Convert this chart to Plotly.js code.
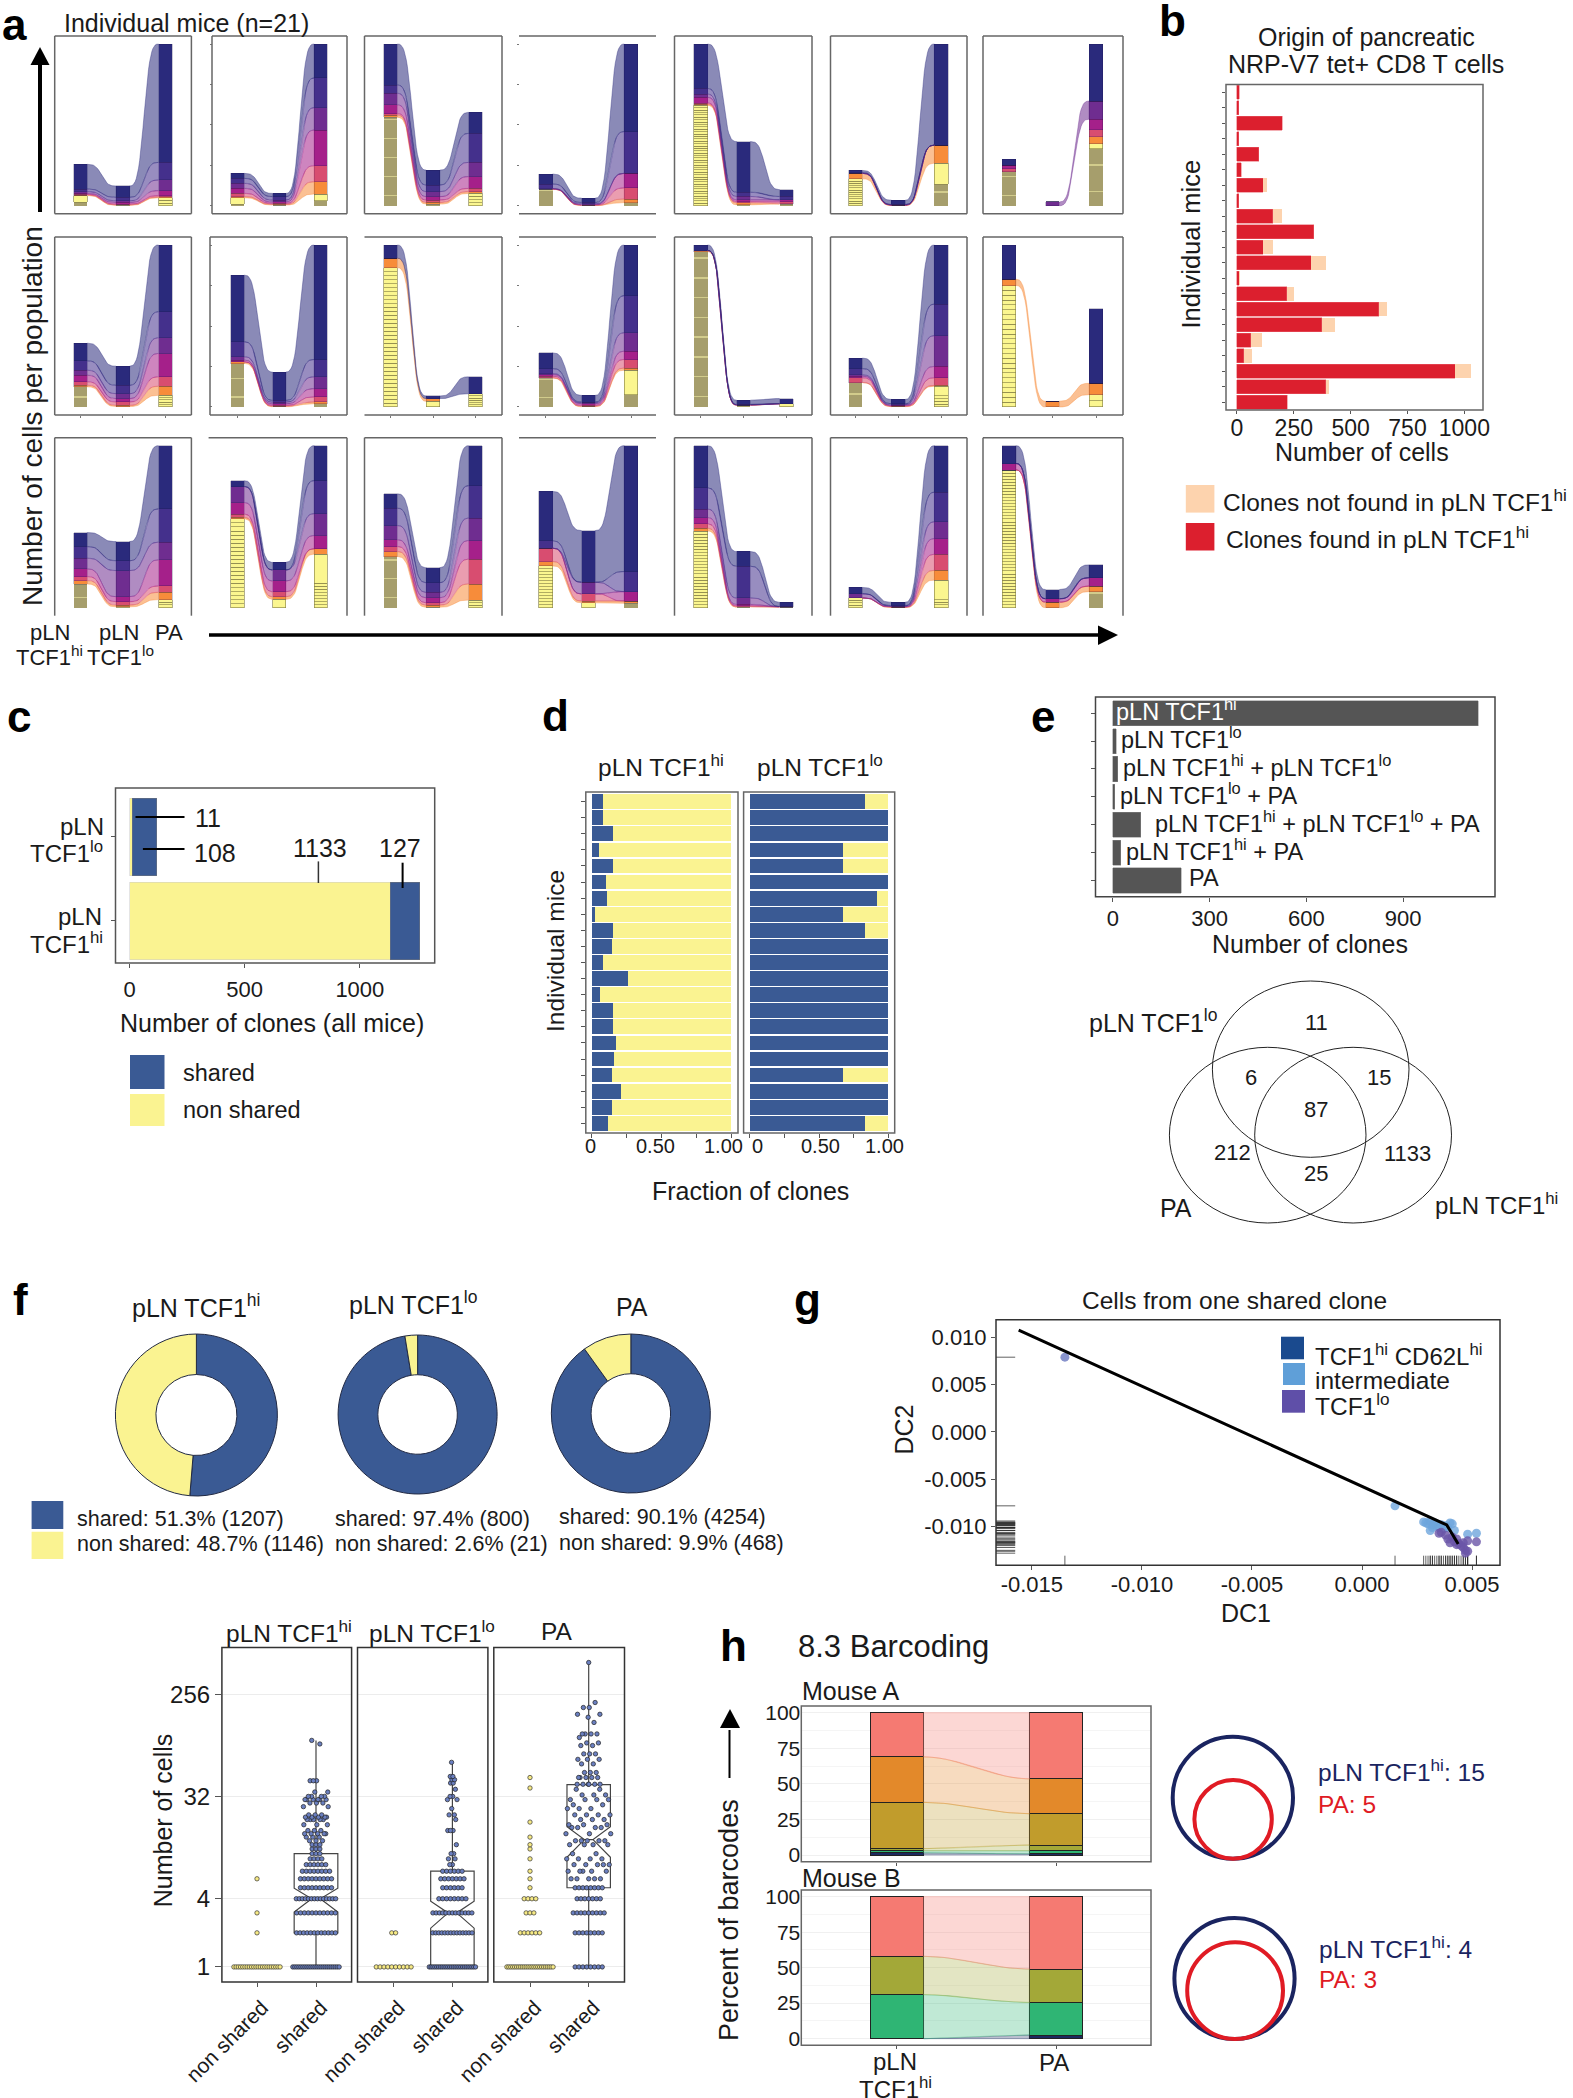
<!DOCTYPE html>
<html><head><meta charset="utf-8">
<script src="https://cdn.plot.ly/plotly-3.0.1.min.js"></script>
<style>html,body{margin:0;padding:0;background:#fff}</style></head>
<body><div id="chart" style="width:1573px;height:2098px"></div>
<script>
// ---------- DATA ----------
// panel a: cumulative tops at each population [yellow, orange, rose, magenta, purple, indigo, navy]
const miceCol1=[[6.2,6.6,7,7.6,8.7,10.3,25.6],[4.9,5.6,7.6,10.7,13.8,16.9,20],[54.6,56,57,62.3,69.5,74.6,100],[10.1,10.2,10.3,10.4,10.6,13.4,19.6],[62,62.8,63.5,67,69,72.5,100],[16.6,20,20,20,20,20.5,21.8],[21,21,23,25,25,25,28.8],
[12.4,13.4,15.5,19.6,22.7,28.5,39.4],[26.8,27.8,27.8,28.9,31,40.2,81.4],[86,91.8,91.8,91.8,91.8,91.8,100],[17.7,18,19,20,20.6,23.7,33.4],[95.8,96.6,96.6,96.6,96.6,96.6,100],[15,15.1,18,19,19.8,23.7,30.2],[75,78.9,78.9,78.9,78.9,78.9,100],
[14.6,16.7,19.2,23.9,30.5,37.7,46.4],[54.8,55.7,57.7,64.9,74.8,74.8,78.4],[31.5,34.6,37.7,41.9,50.7,61.4,70.3],[25.8,28.5,36.7,36.7,36.7,41.2,71.8],[47.3,49,51.7,55.6,60.8,73.9,100],[6,6,6,6,8.6,8.6,12.5],[85,85,85,89,89,89,100]];
const miceCol2=[[.2,.5,1,2,3,5.2,12.2],[.4,.8,1.4,2.3,3.5,5.6,7.6],[1,2,3.5,5.6,8.7,12.8,22],[.1,.2,.4,.7,1.2,2,4.7],[.5,1.8,2.5,3.6,5.7,8.3,39.7],[.1,.2,.3,.4,.6,.8,3.4],[0,0,0,0,2.3,2.3,2.3],
[.3,1,3.1,5.2,8.2,13.4,25.2],[.2,.5,1,2,3,4.1,21.6],[3.5,5.2,5.2,5.2,5.2,5.2,6.8],[.2,.5,1,2,2.5,3,7.2],[1,1.2,1.2,1.2,1.3,1.6,4.2],[.2,.4,.7,1.1,1.5,2,4.7],[0,3.6,3.6,3.6,3.6,3.6,3.6],
[.5,1.6,3.7,6.8,22.9,29,40.8],[5.2,6.8,9.9,16.5,23.3,23.3,28],[.3,1.6,3.1,6.2,9.5,15.5,24.7],[3,4.1,8.5,8.5,15.7,15.7,47.6],[.3,.6,1.2,2,6,25.6,34.7],[.1,.2,.4,.7,1,1.3,3.4],[0,3.4,3.4,5.5,5.5,5.5,11.2]];
const miceCol3=[[4.9,5.4,6.2,9.3,15.9,26.8,100],[7.2,14.8,24.7,46.8,60.6,79,100],[7.6,8.7,10.7,18,26.8,44.7,57.7],[1.9,4.1,11,20,20,45.8,100],[1,1.3,2.3,3.6,3.6,5.7,10],[26.2,37.4,37.4,37.4,37.4,37.4,100],[38.2,42.6,47,53.5,64.7,64.7,100],
[7.2,12.8,18.6,33,42.7,58.8,100],[2,3.1,6.2,11.3,18.6,29.3,100],[8.2,8.2,8.2,8.2,8.2,8.2,18.6],[22.7,24,29.3,34.4,45.8,68.7,100],[2,2,2,2,2,2,5.2],[12.8,13.3,18,25,44,63.5,100],[7.6,14.6,14.6,14.6,14.6,14.6,60.7],
[5,9.5,13.4,29.5,40.4,61,100],[33,36.3,36.3,44.5,58,78.4,100],[4.7,14.6,29.9,41.4,55.3,75.3,100],[2.7,4.1,4.1,9.9,9.9,22.3,100],[.3,.4,.5,.6,.7,.8,3.4],[17,23,32.9,42.6,53,71.3,100],[9.9,13.3,13.3,18.5,18.5,18.5,26.4]];
// number of small non-shared clones and size of one large clone, per population
const yellowClones=[[[3,4],[1,0],[3,0]],[[2,4],[1,0],[4,4]],[[65,0],[1,0],[4,0]],[[8,0],[1,0],[3,0]],[[42,0],[1,0],[2,0]],[[12,0],[1,0],[12,13]],[[25,0],[1,0],[30,3]],
[[15,0],[1,0],[5,0]],[[33,0],[1,0],[2,0]],[[35,0],[1,0],[6,0]],[[22,0],[1,0],[6,15]],[[110,0],[1,0],[1,0]],[[14,0],[1,0],[4,6]],[[25,0],[1,0],[2,0]],
[[18,0],[1,0],[3,0]],[[22,0],[1,0],[8,18]],[[38,0],[1,0],[3,0]],[[14,0],[1,0],[2,0]],[[25,0],[1,0],[1,0]],[[4,0],[1,0],[3,12]],[[45,0],[1,0],[8,0]]];
const flowOnly={6:[[],[4]],9:[[1,6],[6]],13:[[1],[1]]};
const bandColors=['#fbf68f','#f78c3a','#d84d70','#a5208a','#6f2d90','#44308c','#2a2a7c'];
// panel b
const bFound=[10,8,200,8,95,18,115,8,157,338,115,327,10,220,623,374,60,29,960,390,222];
const bTotal=[10,8,200,8,95,18,133,8,200,338,157,390,14,249,660,432,110,65,1029,406,222];
// panel c
const cRows=['lo','hi'];
const cNonShared=[11,1133];
const cShared=[108,127];
// panel d
const dHi=[.08,.08,.15,.05,.15,.10,.11,.02,.155,.145,.08,.26,.055,.15,.155,.175,.16,.145,.21,.145,.115];
const dLo=[.83,1,1,.67,.67,1,.92,.67,.83,1,1,1,1,1,1,1,1,.67,1,1,.83];
// panel e
const eLabels=['pLN TCF1<sup>hi</sup>','pLN TCF1<sup>lo</sup>','pLN TCF1<sup>hi</sup> + pLN TCF1<sup>lo</sup>','pLN TCF1<sup>lo</sup> + PA','pLN TCF1<sup>hi</sup> + pLN TCF1<sup>lo</sup> + PA','pLN TCF1<sup>hi</sup> + PA','PA'];
const eValues=[1133,11,15,6,87,25,212];
// panel f
const fShared=[1207,800,4254];
const fNonShared=[1146,21,468];
// panel g
const gIntermediateX=[.0015,.0028,.0029,.003,.0031,.0032,.0033,.0034,.0031,.0035,.0036,.0037,.0038,.0039,.004,.0041,.0032,.0048,.0052,.0042];
const gIntermediateY=[-.0078,-.0095,-.0096,-.0097,-.0094,-.0098,-.0096,-.0099,-.0104,-.0101,-.0098,-.0102,-.0099,-.0101,-.0096,-.0097,-.0101,-.0108,-.0107,-.0104];
const gLoX=[.0035,.0036,.0038,.0039,.0041,.0042,.0043,.0044,.0045,.0046,.0047,.0047,.0048,.0048,.0052,.004,.0043,.0046];
const gLoY=[-.0107,-.0106,-.0109,-.0113,-.0111,-.0116,-.0113,-.0118,-.012,-.0122,-.0125,-.0128,-.0126,-.0115,-.0116,-.0117,-.0119,-.0117];
const gHiX=[-.0135], gHiY=[.0079];
const gCurveX=[-.0156,.00385,.00437], gCurveY=[.01077,-.00982,-.01183];
// box panels: [number of cells, how many clones]
const bxHiNon=[[1,22],[2,1],[3,1],[6,1]];
const bxHiShared=[[1,24],[2,12],[3,11],[4,14],[5,9],[6,9],[7,8],[8,6],[9,4],[10,3],[11,3],[12,3],[13,3],[14,3],[15,5],[16,3],[18,3],[20,5],[21,5],[22,3],[26,2],[28,3],[30,6],[32,4],[35,2],[44,3],[93,1],[100,1]];
const bxLoNon=[[1,10],[2,2]];
const bxLoShared=[[1,26],[2,14],[3,13],[4,8],[5,6],[6,7],[7,6],[8,2],[9,2],[10,2],[12,1],[16,3],[20,1],[22,2],[25,1],[30,2],[32,2],[37,1],[42,2],[45,2],[48,2],[64,1]];
const bxPaNon=[[1,25],[2,6],[3,3],[4,4],[5,1],[6,1],[7,1],[9,1],[11,1],[12,1],[14,1],[19,1],[38,1],[47,1]];
const bxPaShared=[[1,8],[2,8],[3,9],[4,7],[5,8],[6,5],[7,5],[8,5],[9,4],[10,2],[12,4],[13,5],[15,3],[17,4],[18,3],[20,3],[22,4],[25,3],[27,2],[30,4],[33,3],[37,2],[41,6],[47,5],[52,3],[62,2],[68,3],[76,3],[90,2],[95,2],[106,1],[114,4],[144,1],[160,1],[170,2],[195,2],[216,1],[487,1]];
// q1, median, q3, lower whisker, upper whisker, notch half span
const boxStats=[[2,4,10,1,100,.95],[1,3,7,1,64,.8],[5,13.3,40.7,1,487,4]];
// panel h: cumulative tops [dark, green, olive, ochre, orange, salmon]
const hColors=['#1d2a60','#2fb574','#a3a838','#c19c2c','#e3892a','#f57a72'];
const mouseApLN=[1.5,3,4.5,37,69,100];
const mouseAPA=[.8,3,7,29,53.5,100];
const mouseBpLN=[0,31,58,58,58,100];
const mouseBPA=[2.5,25.5,49,49,49,100];

// ---------- HELPERS ----------
const W=1573,H=2098,FONT='Liberation Sans, Arial, sans-serif',INK='#1a1a1a';
const px=x=>x/W, py=y=>1-y/H;
const layout={width:W,height:H,margin:{l:0,r:0,t:0,b:0},paper_bgcolor:'#fff',plot_bgcolor:'rgba(0,0,0,0)',showlegend:false,barmode:'stack',font:{family:FONT,color:INK},annotations:[],shapes:[]};
const traces=[];let axN=0;
function frame(b,color,width){layout.shapes.push({type:'rect',xref:'paper',yref:'paper',x0:px(b[0]),y0:py(b[1]),x1:px(b[2]),y1:py(b[3]),line:{color,width},fillcolor:'rgba(0,0,0,0)'});}
function axes(box,xr,yr,xo={},yo={}){
  axN++;const s=axN===1?'':axN;const xid='x'+s,yid='y'+s;
  const base={showgrid:false,zeroline:false,ticks:'',showticklabels:false,fixedrange:true,ticklen:4,tickcolor:'#555',tickfont:{size:22,family:FONT,color:INK}};
  layout['xaxis'+s]=Object.assign({},base,{domain:[px(box[0]),px(box[2])],range:xr,anchor:yid},xo);
  layout['yaxis'+s]=Object.assign({},base,{domain:[py(box[3]),py(box[1])],range:yr,anchor:xid},yo);
  return {xaxis:xid,yaxis:yid};
}
function T(text,x,y,size,o={}){layout.annotations.push(Object.assign({text,x:px(x),y:py(y),xref:'paper',yref:'paper',showarrow:false,xanchor:'center',yanchor:'middle',font:{size,family:FONT,color:o.color||INK}},o.opt||{}));}
const TL=(text,x,y,size,o={})=>T(text,x,y,size,Object.assign({},o,{opt:Object.assign({xanchor:'left'},o.opt||{})}));
const TR=(text,x,y,size)=>T(text,x,y,size,{opt:{textangle:-90}});
function line(x0,y0,x1,y1,color,width){layout.shapes.push({type:'line',xref:'paper',yref:'paper',x0:px(x0),y0:py(y0),x1:px(x1),y1:py(y1),line:{color,width}});}
function rect(x0,y0,x1,y1,color){layout.shapes.push({type:'rect',xref:'paper',yref:'paper',x0:px(x0),y0:py(y0),x1:px(x1),y1:py(y1),fillcolor:color,line:{width:0}});}
function ring(x0,y0,x1,y1,color,width){layout.shapes.push({type:'circle',xref:'paper',yref:'paper',x0:px(x0),y0:py(y0),x1:px(x1),y1:py(y1),line:{color,width}});}
function tri(a,b,c){layout.shapes.push({type:'path',xref:'paper',yref:'paper',path:`M${px(a[0])},${py(a[1])}L${px(b[0])},${py(b[1])}L${px(c[0])},${py(c[1])}Z`,fillcolor:'#000',line:{width:0}});}
function rgba(hex,a){const n=parseInt(hex.slice(1),16);return `rgba(${n>>16},${(n>>8)&255},${n&255},${a})`;}
const knot=(u,p)=>{const a=Math.pow(u,p),b=Math.pow(1-u,p);return a/(a+b);};
function ribbon(xa,xb,lo0,hi0,lo1,hi1,X,Y,p){
  const N=26,top=[],bot=[];
  for(let i=0;i<=N;i++){const u=i/N,s=knot(u,p),x=xa+(xb-xa)*u;
    top.push([x,hi0+(hi1-hi0)*s]);bot.push([x,lo0+(lo1-lo0)*s]);}
  top.concat(bot.reverse()).forEach(q=>{X.push(q[0]);Y.push(q[1]);});
  X.push(top[0][0]);Y.push(top[0][1]);X.push(null);Y.push(null);
}

// ---------- PANEL a ----------
const colCentres=[[80.4,165.3],[237.6,320.8],[390.6,475.5],[545.7,631],[700.7,786.4],[855.5,941.2],[1009,1096]];
const frameX=[[54.7,191.4],[212,347],[364.5,502],[519,656],[674.5,812],[830.5,967],[983,1123]];
const frameX2=[null,[210,347],null,null,null,null,null];
const frameX3=[null,[208.6,347],null,null,null,null,null];
const rowsY=[[36,213.7],[237,415],[437.7,615.7]];
const frameSides=['TRBL','TRBL','TRBL','TB','TRBL','TRBL','TRBL','TRBL','TRBL','TRB','TB','TRBL','TRBL','TRBL','TRL','TR','TRL','T','TRL','TRL','TRL'];
for(let m=0;m<21;m++){
  const r=Math.floor(m/7),c=m%7,[c1,c3]=colCentres[c],sp=(c3-c1)/2,[fy0,fy1]=rowsY[r];
  const xTicks=r===1?{ticks:'outside',ticklen:2,tickvals:[0,1,2],tickcolor:'#777'}:{};
  const yTicks=(c===1||c===3)&&r<2?{ticks:'outside',ticklen:2,tickvals:[0,25,50,75,100],tickcolor:'#777'}:{};
  const a=axes([c1-.6*sp,fy0,c3+.6*sp,fy1],[-.6,2.6],[-4.95,104.95],xTicks,yTicks);
  const fx=(r===1&&frameX2[c])||(r===2&&frameX3[c])||frameX[c];
  const sd=frameSides[m],fc='#666';
  if(sd.includes('T'))line(fx[0],fy0,fx[1],fy0,fc,1.5);
  if(sd.includes('B'))line(fx[0],fy1,fx[1],fy1,fc,1.5);
  if(sd.includes('L'))line(fx[0],fy0,fx[0],fy1,fc,1.5);
  if(sd.includes('R'))line(fx[1],fy0,fx[1],fy1,fc,1.5);
  const cols=[miceCol1[m],miceCol2[m],miceCol3[m]];
  for(let k=1;k<7;k++){
    const X=[],Y=[];
    for(let g=0;g<2;g++){
      if(flowOnly[m]&&!flowOnly[m][g].includes(k))continue;
      ribbon(g+.16,g+1-.16,cols[g][k-1],cols[g][k],cols[g+1][k-1],cols[g+1][k],X,Y,2.4);
    }
    if(X.length)traces.push(Object.assign({type:'scatter',mode:'lines',x:X,y:Y,fill:'toself',fillcolor:rgba(bandColors[k],.55),line:{color:rgba(bandColors[k],.55),width:.7},hoverinfo:'skip'},a));
  }
  const yx=[],yy=[],yc=[],yl=[];
  cols.forEach((col,i)=>{
    const [n,big]=yellowClones[m][i];if(col[0]<=0)return;
    const seg=(col[0]-big)/n,dense=seg*1.617<2.2;
    for(let j=0;j<n;j++){yx.push(i);yy.push(seg);yc.push(dense?(j%14===7?'#d2cc8c':'#a69e6c'):bandColors[0]);yl.push(dense?0:.8);}
    if(big>0){yx.push(i);yy.push(big);yc.push(bandColors[0]);yl.push(.8);}
  });
  traces.push(Object.assign({type:'bar',x:yx,y:yy,width:.32,marker:{color:yc,line:{color:'rgba(135,130,72,.8)',width:yl}},hoverinfo:'skip'},a));
  for(let k=1;k<7;k++){
    traces.push(Object.assign({type:'bar',x:[0,1,2],y:cols.map(col=>+(col[k]-col[k-1]).toFixed(2)),width:.32,marker:{color:bandColors[k],line:{color:'rgba(30,20,70,.4)',width:.6}},hoverinfo:'skip'},a));
  }
}
TL('Individual mice (n=21)',62,23,25);
TR('Number of cells per population',33,416,28);
T('pLN',50,632,22);T('TCF1<sup>hi</sup>',49,656,22);T('pLN',119,632,22);T('TCF1<sup>lo</sup>',120,656,22);T('PA',168.6,632,22);
line(40,212,40,64,'#000',4);tri([30.5,65],[49.5,65],[40,47]);
line(209,635,1098,635,'#000',3.6);tri([1098,625.5],[1098,645],[1118,635]);

// ---------- PANEL b ----------
{const a=axes([1226,84.6,1483,410],[-48,1082],[20.5,-.5],{ticks:'outside',ticklen:3,showticklabels:true,tickvals:[0,250,500,750,1000],ticktext:['0','250','500','750','1000'],tickfont:{size:23,family:FONT,color:INK},ticklabelstandoff:-6},{ticks:'outside',ticklen:3,tickvals:bFound.map((_,i)=>i)});
frame([1226,84.6,1483,410],'#666',1.5);
const ys=bFound.map((_,i)=>i);
traces.push(Object.assign({type:'bar',orientation:'h',y:ys,x:bFound,width:.9,marker:{color:'#dc1f2e',line:{color:'#e8606a',width:.5}},hoverinfo:'skip'},a));
traces.push(Object.assign({type:'bar',orientation:'h',y:ys,x:bTotal.map((v,i)=>v-bFound[i]),width:.9,marker:{color:'#fdd3ae'},hoverinfo:'skip'},a));
T('Origin of pancreatic',1366,37,25);T('NRP-V7 tet+ CD8 T cells',1366,64.4,25);
TR('Individual mice',1190.6,244,25.5);T('Number of cells',1362,452.4,25);
rect(1185.8,485,1214.4,512.6,'#fdd3ae');rect(1185.8,523,1214.4,550.5,'#dc1f2e');
TL('Clones not found in pLN TCF1<sup>hi</sup>',1221,501,24.5);TL('Clones found in pLN TCF1<sup>hi</sup>',1224,537.7,24.5);}

// ---------- PANEL c ----------
const BLUE='#3a5a94',YEL='#faf391';
{const a=axes([115.5,788,434.7,963],[-61,1325],[1.5,-.583],{ticks:'outside',showticklabels:true,tickvals:[0,500,1000],ticktext:['0','500','1000'],ticklabelstandoff:3},{ticks:'outside',tickvals:[0,1]});
frame([115.5,788,434.7,963],'#555',1.5);
const ys=cRows.map((_,i)=>i);
traces.push(Object.assign({type:'bar',orientation:'h',y:ys,x:cNonShared,width:.92,marker:{color:YEL,line:{color:'#ccc',width:.5}},hoverinfo:'skip'},a));
traces.push(Object.assign({type:'bar',orientation:'h',y:ys,x:cShared,width:.92,marker:{color:BLUE,line:{color:'#777',width:.5}},hoverinfo:'skip'},a));
T('pLN',81.6,826.7,24);T('TCF1<sup>lo</sup>',66,852,24);T('pLN',80,916,24);T('TCF1<sup>hi</sup>',66,943,24);
line(135.5,817,184.5,817,'#000',2);line(142.9,849,184.5,849,'#000',2);line(318.4,861.4,318.4,883,'#333',1.5);line(402.6,862.7,402.6,888,'#000',2);
TL('11',192.6,818,25);TL('108',192,852.7,25);T('1133',320,848,25);T('127',400,848,25);
T('Number of clones (all mice)',271.5,1023,25);
rect(130,1055,164.5,1089,BLUE);rect(130,1094,164.5,1126,YEL);TL('shared',180.6,1072.8,23.5);TL('non shared',180.6,1110,23.5);}

// ---------- PANEL d ----------
{const ticks={ticks:'outside',tickvals:[0,.25,.5,.75,1]};
const a1=axes([585.8,792,738,1133],[-.044,1.05],[20.6,-.6],ticks,{ticks:'outside',tickvals:dHi.map((_,i)=>i)});
const a2=axes([743.6,792,894.7,1133],[-.044,1.045],[20.6,-.6],ticks,{});
frame([585.8,792,738,1133],'#666',1.5);frame([743.6,792,894.7,1133],'#666',1.5);
const ys=dHi.map((_,i)=>i);
[[a1,dHi],[a2,dLo]].forEach(([a,vals])=>{
  traces.push(Object.assign({type:'bar',orientation:'h',y:ys,x:vals,width:.92,marker:{color:BLUE},hoverinfo:'skip'},a));
  traces.push(Object.assign({type:'bar',orientation:'h',y:ys,x:vals.map(v=>+(1-v).toFixed(3)),width:.92,marker:{color:YEL},hoverinfo:'skip'},a));
});
T('0',590.6,1146,20);T('0.50',655,1146,20);T('1.00',723,1146,20);T('0',757.7,1146,20);T('0.50',820,1146,20);T('1.00',885,1146,20);
T('pLN TCF1<sup>hi</sup>',660.8,765,24.5);T('pLN TCF1<sup>lo</sup>',820,765,24.5);
TR('Individual mice',555,951,24.5);T('Fraction of clones',750,1190.5,25);}

// ---------- PANEL e ----------
{const a=axes([1095.5,697,1495,896.7],[-54,1185],[6.58,-.58],{ticks:'outside',showticklabels:true,tickvals:[0,300,600,900],ticktext:['0','300','600','900'],ticklabelstandoff:-2},{ticks:'outside',tickvals:eValues.map((_,i)=>i)});
frame([1095.5,697,1495,896.7],'#444',1.5);
traces.push(Object.assign({type:'bar',orientation:'h',y:eValues.map((_,i)=>i),x:eValues,width:.9,marker:{color:'#555',line:{color:'#888',width:.5}},hoverinfo:'skip'},a));
eLabels.forEach((t,i)=>{
  layout.annotations.push({text:t,xref:a.xaxis,yref:a.yaxis,x:i===0?0:eValues[i],y:i,xanchor:'left',yanchor:'middle',yshift:3,xshift:i===0?1:(i===4?12:(i===6?6:3)),showarrow:false,font:{size:23.5,family:FONT,color:i===0?'#fff':INK}});
});
T('Number of clones',1309.5,944,25);
ring(1212.4,981,1409,1157.3,'#222',1);ring(1169.4,1047.3,1366,1223,'#222',1);ring(1254.7,1047.3,1451.5,1223,'#222',1);
T('pLN TCF1<sup>lo</sup>',1153,1020.6,25);T('11',1316,1022,22);T('6',1250.6,1077,22);T('15',1379,1077,22);T('87',1316,1109,22);T('212',1232,1152,22);T('1133',1407,1153,22);T('25',1316,1173,22);T('PA',1176,1208,25);T('pLN TCF1<sup>hi</sup>',1496,1204,24);}

// ---------- PANEL f ----------
{const boxes=[[114.8,1334,278,1496],[337.8,1335,497.4,1494],[551,1334,710.7,1493]];
boxes.forEach((b,i)=>traces.push({type:'pie',values:[fShared[i],fNonShared[i]],labels:['shared','non shared'],sort:false,direction:'clockwise',rotation:0,hole:.5,textinfo:'none',hoverinfo:'skip',marker:{colors:[BLUE,YEL],line:{color:'#222a44',width:1}},domain:{x:[px(b[0]),px(b[2])],y:[py(b[3]),py(b[1])]}}));
T('pLN TCF1<sup>hi</sup>',196,1306,25);T('pLN TCF1<sup>lo</sup>',413,1303,25);T('PA',631.6,1307,25);
rect(31.6,1501,63.3,1529,BLUE);rect(31.6,1531.7,63.3,1559,YEL);
const pct=(a,b)=>(100*a/(a+b)).toFixed(1);
const lx=[74.5,332.6,556.6],ly=[[1519,1544],[1519,1544],[1516.7,1542.7]];
fShared.forEach((s,i)=>{const n=fNonShared[i];
  TL(`shared: ${pct(s,n)}% (${s})`,lx[i],ly[i][0],21.5);TL(`non shared: ${pct(n,s)}% (${n})`,lx[i],ly[i][1],21.5);});}

// ---------- PANEL g ----------
{const xr=[-.01663,.00627],yr=[-.01408,.01186];
const a=axes([996,1319.7,1500,1565.3],xr,yr,{ticks:'outside',showticklabels:true,tickvals:[-.015,-.01,-.005,0,.005],ticktext:['-0.015','-0.010','-0.005','0.000','0.005'],ticklabelstandoff:-5},{ticks:'outside',showticklabels:true,tickvals:[-.01,-.005,0,.005,.01],ticktext:['-0.010','-0.005','0.000','0.005','0.010']});
frame([996,1319.7,1500,1565.3],'#333',1.5);
const allX=gHiX.concat(gIntermediateX,gLoX),allY=gHiY.concat(gIntermediateY,gLoY);
traces.push(Object.assign({type:'scatter',mode:'markers',x:allX.map(()=>xr[0]+8/22016),y:allY,marker:{symbol:'line-ew',size:16,line:{color:'rgba(30,30,30,.7)',width:1}},hoverinfo:'skip'},a));
traces.push(Object.assign({type:'scatter',mode:'markers',x:allX,y:allY.map(()=>yr[0]+4/9467),marker:{symbol:'line-ns',size:8,line:{color:'rgba(30,30,30,.7)',width:1}},hoverinfo:'skip'},a));
[[gIntermediateX,gIntermediateY,'#6ea5dc'],[gLoX,gLoY,'#6a55a8'],[gHiX,gHiY,'#6a78c0']].forEach(([x,y,c])=>traces.push(Object.assign({type:'scatter',mode:'markers',x,y,marker:{color:c,size:9,opacity:.8},hoverinfo:'skip'},a)));
traces.push(Object.assign({type:'scatter',mode:'lines',x:gCurveX,y:gCurveY,line:{color:'#000',width:3},hoverinfo:'skip'},a));
T('Cells from one shared clone',1234,1300.7,24.5);TR('DC2',903.5,1430,25);T('DC1',1246,1613,25);
rect(1281,1336.7,1304,1359.3,'#1a4a8e');rect(1283,1363,1305,1385,'#5f9fd8');rect(1282,1390,1305,1412.7,'#5f4fa8');
TL('TCF1<sup>hi</sup> CD62L<sup>hi</sup>',1313,1355,24);TL('intermediate',1313,1380,24.5);TL('TCF1<sup>lo</sup>',1313,1404,24.5);}

// ---------- BOX PANELS ----------
function vdc(i){let v=0,d=.5;while(i>0){v+=d*(i&1);i>>=1;d/=2;}return v;}
function swarm(levels,cx,rowMax,spread){
  const xs=[],ys=[];let counter=1;
  levels.forEach(([v,n])=>{
    if(v<=rowMax||n>=10){
      const width=v===1?.82:.72,s=Math.min(.066,width/n);
      for(let j=0;j<n;j++){xs.push(cx+(j-(n-1)/2)*s);ys.push(v);}
    }else{
      const sp=v>=40?spread*.5:spread;
      for(let j=0;j<n;j++){const o=v>=400?0:(vdc(counter++)-.5)*2*sp;xs.push(cx+o);ys.push(v);}
    }
  });
  return {xs,ys};
}
{const yr=[-.133,2.82],boxes=[[221.9,1647.5,351.6,1982],[357.5,1647.5,487.9,1982],[493.8,1647.5,624.5,1982]];
const centres=[[257,316],[393.7,452.4],[530,588.7]];
const groups=[[bxHiNon,bxHiShared,12,.22],[bxLoNon,bxLoShared,7,.09],[bxPaNon,bxPaShared,5,.4]];
boxes.forEach((b,i)=>{
  const sp=centres[i][1]-centres[i][0];
  const a=axes(b,[(b[0]-centres[i][0])/sp,(b[2]-centres[i][0])/sp],yr,
    {ticks:'outside',showticklabels:true,tickvals:[0,1],ticktext:['non shared','shared'],tickangle:-45,tickfont:{size:21,family:FONT,color:INK},ticklabelshift:5},
    {type:'log',showgrid:true,gridcolor:'#ececec',tickvals:[1,4,32,256],ticktext:['1','4','32','256'],ticks:i===0?'outside':'',ticklen:6,showticklabels:i===0,tickfont:{size:24,family:FONT,color:INK}});
  frame(b,'#333',1.5);
  const st=boxStats[i];
  traces.push(Object.assign({type:'box',x:[1],q1:[st[0]],median:[st[1]],q3:[st[2]],lowerfence:[st[3]],upperfence:[st[4]],notchspan:[st[5]],notched:true,notchwidth:.4,width:.74,whiskerwidth:0,boxpoints:false,fillcolor:'rgba(0,0,0,0)',line:{color:'#444',width:1.2},hoverinfo:'skip'},a));
  const g=groups[i];
  const p0=swarm(g[0],0,100,0),p1=swarm(g[1],1,g[2],g[3]);
  traces.push(Object.assign({type:'scatter',mode:'markers',x:p0.xs,y:p0.ys,marker:{color:'#f7ea85',size:4.4,line:{color:'#333',width:.7}},hoverinfo:'skip'},a));
  traces.push(Object.assign({type:'scatter',mode:'markers',x:p1.xs,y:p1.ys,marker:{color:'#6a7fc0',size:4.4,line:{color:'#222',width:.7}},hoverinfo:'skip'},a));
});
TR('Number of cells',162.5,1820.8,25);
T('pLN TCF1<sup>hi</sup>',289,1631.5,24.5);T('pLN TCF1<sup>lo</sup>',432,1631.5,24.5);T('PA',557,1631.5,24.5);}

// ---------- PANEL h ----------
{const xr=[-.6,1.596],yr=[-4.7,104.7];
const yo={showgrid:true,gridcolor:'#f0f0f0',ticks:'',showticklabels:true,tickvals:[0,25,50,75,100],ticktext:['0','25','50','75','100'],tickfont:{size:21,family:FONT,color:INK},minor:{dtick:12.5,showgrid:true,gridcolor:'#f5f5f5',ticks:''}};
const xo={ticks:'outside',ticklen:3,tickvals:[0,1]};
[[[801.3,1706,1151,1861.7],mouseApLN,mouseAPA],[[801.3,1890,1151,2045.3],mouseBpLN,mouseBPA]].forEach(([b,c1,c2])=>{
  const a=axes(b,xr,yr,xo,yo);
  frame(b,'#666',1.5);
  hColors.forEach((col,k)=>{
    const lo0=k?c1[k-1]:0,lo1=k?c2[k-1]:0,X=[],Y=[];
    if(c1[k]-lo0>0||c2[k]-lo1>0){ribbon(.168,.832,lo0,c1[k],lo1,c2[k],X,Y,1.6);
      traces.push(Object.assign({type:'scatter',mode:'lines',x:X,y:Y,fill:'toself',fillcolor:rgba(col,.3),line:{color:rgba(col,.35),width:1},hoverinfo:'skip'},a));}
  });
  hColors.forEach((col,k)=>{
    const lo0=k?c1[k-1]:0,lo1=k?c2[k-1]:0;
    traces.push(Object.assign({type:'bar',x:[0,1],y:[+(c1[k]-lo0).toFixed(2),+(c2[k]-lo1).toFixed(2)],width:.335,marker:{color:col,line:{color:'#222',width:1}},hoverinfo:'skip'},a));
  });
});
TL('8.3 Barcoding',795.8,1646.7,31);TL('Mouse A',800,1690.7,25);TL('Mouse B',800,1877.7,25);
TR('Percent of barcodes',729,1920,27);
line(729.5,1778,729.5,1730,'#000',2);tri([720,1728],[740,1728],[730,1709]);
T('pLN',895,2061.7,24);T('TCF1<sup>hi</sup>',895,2088,24);T('PA',1053.6,2062,24);
ring(1172.7,1736.7,1293,1858.7,'#1a2460',4);ring(1194.4,1780,1271.8,1858.7,'#e01b24',4);
ring(1174.4,1918,1294.6,2039,'#1a2460',4);ring(1187.2,1942.3,1283,2039,'#e01b24',4);
TL('pLN TCF1<sup>hi</sup>: 15',1316,1770,24.5,{color:'#1a2460'});TL('PA: 5',1316,1804,24.5,{color:'#e01b24'});
TL('pLN TCF1<sup>hi</sup>: 4',1317,1947.7,24.5,{color:'#1a2460'});TL('PA: 3',1317,1979,24.5,{color:'#e01b24'});}

// ---------- PANEL LETTERS ----------
[['a',14,24],['b',1172,21],['c',18.7,717],['d',555,716],['e',1043,717],['f',20,1299],['g',808,1299],['h',733,1645]].forEach(([t,x,y])=>T('<b>'+t+'</b>',x,y,44,{color:'#000'}));

Plotly.newPlot('chart',traces,layout,{staticPlot:true,displayModeBar:false});
</script></body></html>
